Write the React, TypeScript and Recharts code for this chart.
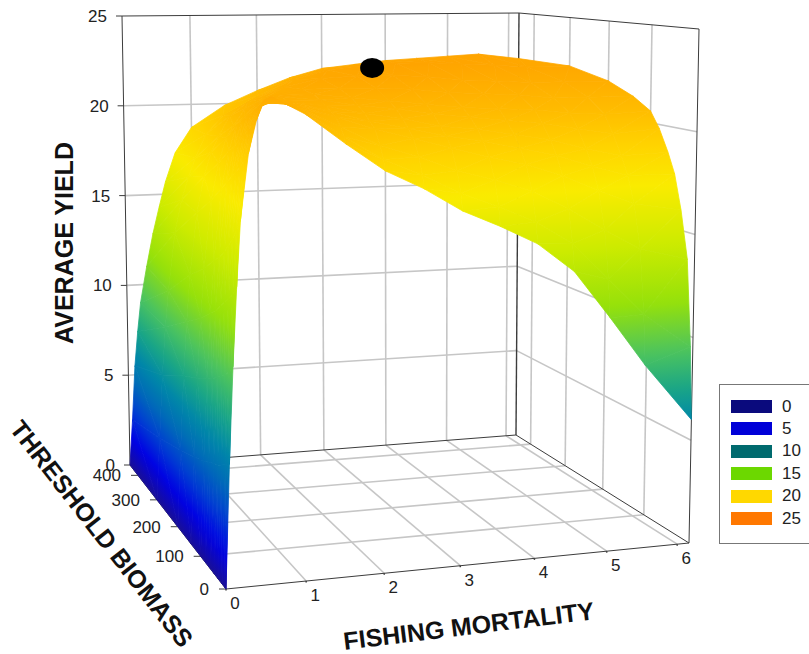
import React from 'react';
import { ScatterChart, Scatter, XAxis, YAxis } from 'recharts';

const WIDTH = 809;
const HEIGHT = 654;

// axis ranges and ticks
const fishingMax = 6.17;
const biomassMax = 445;
const yieldMax = 25;
const fishingTicks = [0, 1, 2, 3, 4, 5, 6];
const biomassTicks = [0, 100, 200, 300, 400];
const yieldTicks = [0, 5, 10, 15, 20, 25];

// surface grid
const fishingGrid = [0, 0.05, 0.1, 0.15, 0.2, 0.3, 0.4, 0.5, 0.6, 0.75, 1, 1.5, 2, 2.5, 3, 3.5, 4, 4.5, 5, 5.5, 6.17];
const biomassGrid = [0, 5, 15, 30, 45, 60, 80, 100, 140, 200, 300, 445];
const yieldAt0 = [0, 5.6, 10, 13.6, 16.6, 19.6, 21.1, 22, 22.1, 21.8, 21.3, 19.9, 18.6, 17.7, 16.6, 15.8, 14.9, 13.5, 11.2, 8.8, 6];
const yieldAt5 = [0, 5.5, 9.8, 13.4, 16.4, 19.5, 21, 21.9, 22.1, 21.8, 21.4, 20.2, 19.1, 18.3, 17.4, 16.7, 15.9, 14.8, 13, 11.2, 9.5];
const yieldAt15 = [0, 5.4, 9.6, 13.1, 16, 19.2, 20.8, 21.7, 21.9, 21.8, 21.5, 20.6, 19.7, 19.1, 18.4, 17.9, 17.3, 16.4, 15.3, 14.3, 13.7];
const yieldAt30 = [0, 5.2, 9.3, 12.8, 15.5, 18.8, 20.5, 21.4, 21.7, 21.7, 21.6, 21, 20.4, 19.9, 19.4, 18.9, 18.5, 17.9, 17.1, 16.4, 16];
const yieldAt45 = [0, 5, 9.1, 12.5, 15.1, 18.5, 20.2, 21.2, 21.5, 21.7, 21.7, 21.2, 20.7, 20.3, 19.9, 19.6, 19.2, 18.8, 18.2, 17.7, 17.7];
const yieldAt60 = [0, 4.9, 8.9, 12.2, 14.7, 18.2, 19.9, 21, 21.3, 21.6, 21.7, 21.4, 21, 20.7, 20.3, 20.1, 19.8, 19.5, 19, 18.6, 18.7];
const yieldAt80 = [0, 4.7, 8.6, 11.8, 14.3, 17.8, 19.5, 20.7, 21.1, 21.5, 21.8, 21.6, 21.3, 21.1, 20.8, 20.6, 20.4, 20.2, 19.9, 19.6, 19.8];
const yieldAt100 = [0, 4.5, 8.4, 11.5, 14, 17.4, 19.2, 20.4, 20.8, 21.4, 21.8, 21.8, 21.6, 21.4, 21.2, 21, 20.9, 20.8, 20.6, 20.5, 20.6];
const yieldAt140 = [0, 4.2, 8, 10.9, 13.3, 16.6, 18.4, 19.6, 20.2, 21, 21.5, 21.9, 21.9, 21.9, 21.8, 21.6, 21.5, 21.4, 21.2, 21.2, 21.2];
const yieldAt200 = [0, 3.8, 7.5, 10.2, 12.5, 15.6, 17.4, 18.6, 19.4, 20.4, 21.1, 21.8, 22.2, 22.3, 22.3, 22.2, 22, 21.9, 21.8, 21.8, 21.8];
const yieldAt300 = [0, 3.2, 6.5, 9, 10.9, 13.9, 15.6, 16.8, 17.8, 19, 20, 21, 21.8, 22.3, 22.5, 22.6, 22.6, 22.5, 22.4, 22.3, 22.3];
const yieldAt445 = [0, 2.5, 5.5, 7.4, 9, 11, 12.8, 14.3, 15.7, 17.3, 18.7, 19.9, 20.7, 21.4, 21.9, 22.1, 22.3, 22.4, 22.5, 22.6, 22.3];
const yieldRows = [yieldAt0, yieldAt5, yieldAt15, yieldAt30, yieldAt45, yieldAt60, yieldAt80, yieldAt100, yieldAt140, yieldAt200, yieldAt300, yieldAt445];

// the optimum marked with the black dot
const optimum = { fishing: 2.58, biomass: 170, yield: 22.8 };

const legendValues = [0, 5, 10, 15, 20, 25];
const legendColors = ['#0a0a7d', '#0000d8', '#006a6e', '#6cd800', '#ffd800', '#ff7800'];

// surface colour ramp (brighter than the legend swatches, as in the picture)
const rampLevels = [0, 1.5, 3, 4.5, 6, 7.5, 9.3, 11.7, 14.5, 17.2, 19, 20.7, 22.5, 25];
const rampColors = [
  [25, 15, 150], [0, 0, 228], [0, 60, 210], [0, 105, 185], [0, 135, 168], [25, 165, 135], [75, 195, 95],
  [150, 225, 10], [205, 235, 0], [250, 235, 0], [255, 212, 0], [255, 188, 0], [255, 165, 0], [255, 130, 0],
];

// box corners on screen, order front, right, back, left (the front top corner follows from the rest)
const floorCorners = [[226, 589], [689, 543], [516, 435], [130, 465]];
const topRight = [699, 29];
const topBack = [519, 13];
const topLeft = [122, 16];

const [[x0, y0], [x1, y1], [x2, y2], [x3, y3]] = floorCorners;
const sx = x0 - x1 + x2 - x3;
const sy = y0 - y1 + y2 - y3;
const den = (x1 - x2) * (y3 - y2) - (x3 - x2) * (y1 - y2);
const g = (sx * (y3 - y2) - (x3 - x2) * sy) / den;
const h = ((x1 - x2) * sy - sx * (y1 - y2)) / den;
const perspective = (u: number, v: number) => g * u + h * v + 1;

const floorPlane = (u: number, v: number) => {
  const w = perspective(u, v);
  return [
    ((x1 - x0 + g * x1) * u + (x3 - x0 + h * x3) * v + x0) / w,
    ((y1 - y0 + g * y1) * u + (y3 - y0 + h * y3) * v + y0) / w,
  ];
};

// top plane keeps the floor's perspective, so the walls stay straight
const topCoefficients = [0, 1].map(k => {
  const r = topRight[k] * perspective(1, 0);
  const b = topBack[k] * perspective(1, 1);
  const l = topLeft[k] * perspective(0, 1);
  const cu = b - l;
  const cv = b - r;
  return { cu, cv, c: l - cv };
});
const topPlane = (u: number, v: number) => {
  const w = perspective(u, v);
  return topCoefficients.map(t => (t.cu * u + t.cv * v + t.c) / w);
};

const project = (fishing: number, biomass: number, value: number) => {
  const u = fishing / fishingMax, v = biomass / biomassMax, t = value / yieldMax;
  const a = floorPlane(u, v), b = topPlane(u, v);
  return { x: a[0] + (b[0] - a[0]) * t, y: a[1] + (b[1] - a[1]) * t };
};

const rampColor = (z: number) => {
  let i = 0;
  while (i < rampLevels.length - 2 && z > rampLevels[i + 1]) i++;
  const t = Math.max(0, Math.min(1, (z - rampLevels[i]) / (rampLevels[i + 1] - rampLevels[i])));
  const c = rampColors[i].map((v, k) => Math.round(v + (rampColors[i + 1][k] - v) * t));
  return `rgb(${c[0]},${c[1]},${c[2]})`;
};

// surface triangles, far ones first
const cells: any[] = [];
const addTriangle = (id: string, keys: number[][]) => {
  const corners = keys.map(([a, b]) => ({
    ...project(fishingGrid[a], biomassGrid[b], yieldRows[b][a]),
    z: yieldRows[b][a],
  }));
  const x = corners.reduce((s, c) => s + c.x, 0) / 3;
  const y = corners.reduce((s, c) => s + c.y, 0) / 3;
  cells.push({ id, x, y, corners: corners.map(c => ({ dx: c.x - x, dy: c.y - y, z: c.z })) });
};
for (let j = biomassGrid.length - 2; j >= 0; j--) {
  for (let i = 0; i < fishingGrid.length - 1; i++) {
    addTriangle(`a${i}-${j}`, [[i, j], [i + 1, j], [i + 1, j + 1]]);
    addTriangle(`b${i}-${j}`, [[i, j], [i + 1, j + 1], [i, j + 1]]);
  }
}

const stopSteps = [0, 0.125, 0.25, 0.375, 0.5, 0.625, 0.75, 0.875, 1];

const CellShape = ({ cx, cy, payload }: any) => {
  const pts = payload.corners;
  const [p0, p1, p2] = pts;
  const det = (p1.dx - p0.dx) * (p2.dy - p0.dy) - (p2.dx - p0.dx) * (p1.dy - p0.dy);
  const gx = ((p1.z - p0.z) * (p2.dy - p0.dy) - (p2.z - p0.z) * (p1.dy - p0.dy)) / det;
  const gy = ((p1.dx - p0.dx) * (p2.z - p0.z) - (p2.dx - p0.dx) * (p1.z - p0.z)) / det;
  const low = pts.reduce((a: any, b: any) => (b.z < a.z ? b : a));
  const high = pts.reduce((a: any, b: any) => (b.z > a.z ? b : a));
  const span = high.z - low.z;
  const norm = gx * gx + gy * gy;
  const poly = pts.map((p: any) => `${cx + p.dx},${cy + p.dy}`).join(' ');
  if (!isFinite(norm) || norm === 0 || span === 0) {
    const solid = rampColor(low.z);
    return <polygon points={poly} fill={solid} stroke={solid} strokeWidth={0.8} />;
  }
  const fill = `url(#${payload.id})`;
  const startX = cx + low.dx, startY = cy + low.dy;
  return (
    <g>
      <defs>
        <linearGradient id={payload.id} gradientUnits="userSpaceOnUse"
          x1={startX} y1={startY} x2={startX + (gx * span) / norm} y2={startY + (gy * span) / norm}>
          {stopSteps.map(t => (
            <stop key={t} offset={t} stopColor={rampColor(low.z + span * t)} />
          ))}
        </linearGradient>
      </defs>
      <polygon points={poly} fill={fill} stroke={fill} strokeWidth={0.8} />
    </g>
  );
};

const NoPoint = () => <g />;

const Segment = (id: string, a: any, b: any, stroke: string, strokeWidth: number) => (
  <Scatter
    key={id}
    data={[a, b]}
    line={{ stroke, strokeWidth }}
    shape={NoPoint}
    isAnimationActive={false}
  />
);

const GRID = '#c6c6c6';
const FRAME = '#3c3c3c';
const GRID_WIDTH = 1.6;

const gridLines = [
  ...fishingTicks.filter(f => f > 0).map(f => Segment(`ff${f}`, project(f, 0, 0), project(f, biomassMax, 0), GRID, GRID_WIDTH)),
  ...biomassTicks.filter(t => t > 0).map(t => Segment(`ft${t}`, project(0, t, 0), project(fishingMax, t, 0), GRID, GRID_WIDTH)),
  ...fishingTicks.filter(f => f > 0).map(f => Segment(`bf${f}`, project(f, biomassMax, 0), project(f, biomassMax, yieldMax), GRID, GRID_WIDTH)),
  ...yieldTicks.filter(z => z > 0 && z < yieldMax).map(z => Segment(`bz${z}`, project(0, biomassMax, z), project(fishingMax, biomassMax, z), GRID, GRID_WIDTH)),
  ...biomassTicks.filter(t => t > 0).map(t => Segment(`rt${t}`, project(fishingMax, t, 0), project(fishingMax, t, yieldMax), GRID, GRID_WIDTH)),
  ...yieldTicks.filter(z => z > 0 && z < yieldMax).map(z => Segment(`rz${z}`, project(fishingMax, 0, z), project(fishingMax, biomassMax, z), GRID, GRID_WIDTH)),
];

const shifted = (p: any, dx: number, dy: number) => ({ x: p.x + dx, y: p.y + dy });

const frameLines = [
  Segment('f1', project(0, 0, 0), project(fishingMax, 0, 0), FRAME, 1),
  Segment('f2', project(fishingMax, 0, 0), project(fishingMax, biomassMax, 0), FRAME, 1),
  Segment('f3', project(fishingMax, biomassMax, 0), project(0, biomassMax, 0), FRAME, 1),
  Segment('f4', project(0, biomassMax, 0), project(0, 0, 0), FRAME, 1),
  Segment('f5', project(0, biomassMax, 0), project(0, biomassMax, yieldMax), FRAME, 1),
  Segment('f6', project(0, biomassMax, yieldMax), project(fishingMax, biomassMax, yieldMax), FRAME, 1),
  Segment('f7', project(fishingMax, biomassMax, yieldMax), project(fishingMax, 0, yieldMax), FRAME, 1),
  Segment('f8', project(fishingMax, biomassMax, 0), project(fishingMax, biomassMax, yieldMax), FRAME, 1.4),
  Segment('f9', project(fishingMax, 0, 0), project(fishingMax, 0, yieldMax), FRAME, 1),
];

const tickMarks = [
  ...yieldTicks.map(z => Segment(`ty${z}`, project(0, biomassMax, z), shifted(project(0, biomassMax, z), -6, 0), FRAME, 1)),
  ...biomassTicks.map(t => Segment(`tb${t}`, project(0, t, 0), shifted(project(0, t, 0), -7, 0), FRAME, 1)),
  ...fishingTicks.map(f => Segment(`tf${f}`, project(f, 0, 0), shifted(project(f, 0, 0), 0, 1.5), FRAME, 1.5)),
];

const tickLabels = [
  ...yieldTicks.map(z => ({ ...shifted(project(0, biomassMax, z), -15, 6), label: String(z), anchor: 'end' })),
  ...biomassTicks.map(t => ({ ...shifted(project(0, t, 0), -17, 6), label: String(t), anchor: 'end' })),
  ...fishingTicks.map(f => ({ ...shifted(project(f, 0, 0), 9, 20), label: String(f), anchor: 'middle' })),
];

const TickLabel = ({ cx, cy, payload }: any) => (
  <text x={cx} y={cy} textAnchor={payload.anchor} fontFamily="Liberation Sans, Arial, sans-serif" fontSize={17} fill="#222">
    {payload.label}
  </text>
);

const axisTitles = [
  { x: 66, y: 243, label: 'AVERAGE YIELD', angle: -90 },
  { x: 469, y: 628, label: 'FISHING MORTALITY', angle: -7 },
  { x: 100, y: 535, label: 'THRESHOLD BIOMASS', angle: 52 },
];

const AxisTitle = ({ cx, cy, payload }: any) => (
  <text
    x={cx}
    y={cy}
    textAnchor="middle"
    dominantBaseline="middle"
    transform={`rotate(${payload.angle} ${cx} ${cy})`}
    fontFamily="Liberation Sans, Arial, sans-serif"
    fontSize={25}
    fontWeight="bold"
    fill="#111"
  >
    {payload.label}
  </text>
);

const OptimumDot = ({ cx, cy }: any) => <ellipse cx={cx} cy={cy} rx={12} ry={10} fill="#000" />;

const SurfaceLegend = () => (
  <div style={{
    position: 'absolute', left: 719, top: 384, width: 90, height: 160, boxSizing: 'border-box',
    border: '1.5px solid #777', borderRight: 'none', background: '#fff',
    fontFamily: 'Liberation Sans, Arial, sans-serif', fontSize: 17, color: '#222',
  }}>
    {legendValues.map((v, i) => (
      <div key={v} style={{ position: 'absolute', left: 11, top: 15 + i * 22.4, height: 13, display: 'flex', alignItems: 'center' }}>
        <span style={{ display: 'inline-block', width: 41, height: 13, background: legendColors[i], marginRight: 10 }} />
        <span>{v}</span>
      </div>
    ))}
  </div>
);

export default function App() {
  return (
    <div style={{ position: 'absolute', left: 0, top: 0, width: WIDTH, height: HEIGHT, overflow: 'hidden', background: '#fff' }}>
      <ScatterChart width={WIDTH} height={HEIGHT} margin={{ top: 0, right: 0, bottom: 0, left: 0 }}>
        <XAxis type="number" dataKey="x" domain={[0, WIDTH]} hide />
        <YAxis type="number" dataKey="y" domain={[0, HEIGHT]} reversed hide />
        {gridLines}
        {frameLines}
        {tickMarks}
        <Scatter data={cells} shape={CellShape} isAnimationActive={false} />
        <Scatter data={[project(optimum.fishing, optimum.biomass, optimum.yield)]} shape={OptimumDot} isAnimationActive={false} />
        <Scatter data={tickLabels} shape={TickLabel} isAnimationActive={false} />
        <Scatter data={axisTitles} shape={AxisTitle} isAnimationActive={false} />
      </ScatterChart>
      <SurfaceLegend />
    </div>
  );
}
